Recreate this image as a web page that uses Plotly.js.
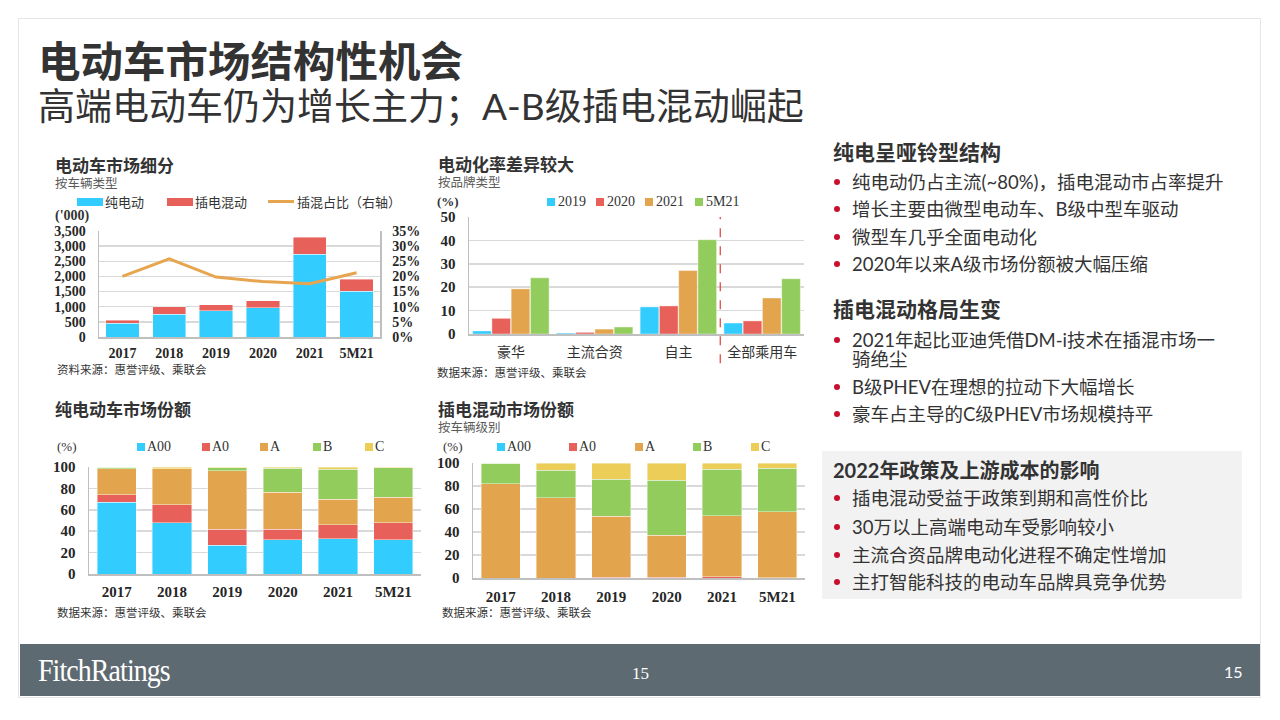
<!DOCTYPE html>
<html>
<head>
<meta charset="utf-8">
<script src="https://cdn.plot.ly/plotly-3.0.1.min.js"></script>
<style>
  html, body { margin:0; padding:0; background:#fff; }
  #slide { position:relative; width:1280px; height:720px; overflow:hidden; background:#fff;
           font-family: Lato, "Noto Sans CJK SC", sans-serif; color:#333; }
  .t { position:absolute; line-height:1; white-space:nowrap; }
  .chart { position:absolute; }
  .dot { position:absolute; width:6px; height:6px; border-radius:50%; background:#C8102E; }
  .b { font-size:18.5px; }
  .lg { position:absolute; }
</style>
</head>
<body>
<div id="slide">
  <div style="position:absolute;left:18px;top:18px;width:1241px;height:678px;border:1px solid #E6E6E6;"></div>
  <div style="position:absolute;left:20px;top:644px;width:1240px;height:52px;background:#5E6A71;"></div>

  <div class="t" style="left:38px;top:40px;font-size:42.5px;font-weight:700;color:#333;">电动车市场结构性机会</div>
  <div class="t" style="left:38px;top:87px;font-size:37px;font-weight:400;color:#333;">高端电动车仍为增长主力；A-B级插电混动崛起</div>

  <!-- chart 1 texts -->
  <div class="t" style="left:55px;top:157px;font-size:17px;font-weight:700;">电动车市场细分</div>
  <div class="t" style="left:55px;top:178px;font-size:12.5px;color:#595959;">按车辆类型</div>
  <div class="t" style="left:55px;top:209px;font-size:14px;font-family:'Liberation Serif',serif;font-weight:700;">('000)</div>
  <div class="t" style="left:57px;top:364px;font-size:11.5px;">资料来源：惠誉评级、乘联会</div>

  <!-- chart 2 texts -->
  <div class="t" style="left:438px;top:156px;font-size:17px;font-weight:700;">电动化率差异较大</div>
  <div class="t" style="left:438px;top:177px;font-size:12.5px;color:#595959;">按品牌类型</div>
  <div class="t" style="left:437px;top:195px;font-size:13px;font-family:'Liberation Serif',serif;font-weight:700;">(%)</div>
  <div class="t" style="left:437px;top:367px;font-size:11.5px;">数据来源：惠誉评级、乘联会</div>

  <!-- chart 3 texts -->
  <div class="t" style="left:55px;top:401px;font-size:17px;font-weight:700;">纯电动车市场份额</div>
  <div class="t" style="left:57px;top:440px;font-size:13px;font-family:'Liberation Serif',serif;">(%)</div>
  <div class="t" style="left:57px;top:607px;font-size:11.5px;">数据来源：惠誉评级、乘联会</div>

  <!-- chart 4 texts -->
  <div class="t" style="left:438px;top:401px;font-size:17px;font-weight:700;">插电混动市场份额</div>
  <div class="t" style="left:438px;top:422px;font-size:12.5px;color:#595959;">按车辆级别</div>
  <div class="t" style="left:443px;top:440px;font-size:13px;font-family:'Liberation Serif',serif;">(%)</div>
  <div class="t" style="left:442px;top:607px;font-size:11.5px;">数据来源：惠誉评级、乘联会</div>

  <!-- right panel -->
  <div class="t" style="left:833px;top:141px;font-size:21px;font-weight:700;">纯电呈哑铃型结构</div>
  <div class="dot" style="left:834px;top:179px;"></div>
  <div class="t b" style="left:852px;top:172.5px;">纯电动仍占主流(~80%)，插电混动市占率提升</div>
  <div class="dot" style="left:834px;top:206px;"></div>
  <div class="t b" style="left:852px;top:199.5px;">增长主要由微型电动车、B级中型车驱动</div>
  <div class="dot" style="left:834px;top:234px;"></div>
  <div class="t b" style="left:852px;top:227.5px;">微型车几乎全面电动化</div>
  <div class="dot" style="left:834px;top:261px;"></div>
  <div class="t b" style="left:852px;top:254.5px;">2020年以来A级市场份额被大幅压缩</div>

  <div class="t" style="left:833px;top:298px;font-size:21px;font-weight:700;">插电混动格局生变</div>
  <div class="dot" style="left:834px;top:337px;"></div>
  <div class="t b" style="left:852px;top:330.5px;">2021年起比亚迪凭借DM-i技术在插混市场一</div>
  <div class="t b" style="left:852px;top:350px;">骑绝尘</div>
  <div class="dot" style="left:834px;top:384px;"></div>
  <div class="t b" style="left:852px;top:377.5px;">B级PHEV在理想的拉动下大幅增长</div>
  <div class="dot" style="left:834px;top:411px;"></div>
  <div class="t b" style="left:852px;top:404.5px;">豪车占主导的C级PHEV市场规模持平</div>

  <div style="position:absolute;left:822px;top:451px;width:420px;height:148px;background:#F2F2F2;"></div>
  <div class="t" style="left:833px;top:460px;font-size:20px;font-weight:700;">2022年政策及上游成本的影响</div>
  <div class="dot" style="left:834px;top:495px;"></div>
  <div class="t b" style="left:852px;top:488.5px;">插电混动受益于政策到期和高性价比</div>
  <div class="dot" style="left:834px;top:524px;"></div>
  <div class="t b" style="left:852px;top:517.5px;">30万以上高端电动车受影响较小</div>
  <div class="dot" style="left:834px;top:552px;"></div>
  <div class="t b" style="left:852px;top:545.5px;">主流合资品牌电动化进程不确定性增加</div>
  <div class="dot" style="left:834px;top:579px;"></div>
  <div class="t b" style="left:852px;top:572.5px;">主打智能科技的电动车品牌具竞争优势</div>

  <!-- footer -->
  <div class="t" style="left:38px;top:655px;font-size:31px;color:#fff;font-family:'Liberation Serif',serif;letter-spacing:-1px;transform:scaleX(0.9);transform-origin:left center;">FitchRatings</div>
  <div class="t" style="left:632px;top:665px;font-size:17px;color:#fff;font-family:'Liberation Serif',serif;">15</div>
  <div class="t" style="left:1224px;top:664px;font-size:16px;color:#fff;">15</div>

  <div id="c1" class="chart" style="left:40px;top:190px;width:380px;height:180px;"></div>
  <div id="c2" class="chart" style="left:430px;top:190px;width:380px;height:185px;"></div>
  <div id="c3" class="chart" style="left:40px;top:425px;width:385px;height:180px;"></div>
  <div id="c4" class="chart" style="left:430px;top:425px;width:380px;height:185px;"></div>
  <div id="legends"></div>
</div>

<script>
// ---------------- data ----------------
const years = ['2017', '2018', '2019', '2020', '2021', '5M21'];

// Chart 1: 电动车市场细分 ('000 units)
const marketSeries = ['纯电动', '插电混动', '插混占比（右轴）'];
const bevUnits = [450, 750, 860, 970, 2730, 1510];
const phevUnits = [95, 250, 210, 220, 570, 395];
const phevSharePct = [20.0, 25.8, 19.8, 18.3, 17.6, 21.2];

// Chart 2: 电动化率差异较大 (%)
const brandCats = ['豪华', '主流合资', '自主', '全部乘用车'];
const rateSeries = ['2019', '2020', '2021', '5M21'];
const rate2019 = [1.3, 0.4, 11.6, 4.7];
const rate2020 = [6.7, 0.7, 12.0, 5.6];
const rate2021 = [19.3, 2.1, 27.1, 15.4];
const rate5M21 = [24.0, 3.0, 40.3, 23.6];

// Chart 3: 纯电动车市场份额 (%)
const segNames = ['A00', 'A0', 'A', 'B', 'C'];
const bevA00 = [67, 48, 27, 32, 33, 32];
const bevA0 = [7, 16.5, 15, 10, 13, 16];
const bevA = [24.5, 34, 54.5, 34.5, 24, 23.5];
const bevB = [1.5, 0, 3, 22.5, 28, 28];
const bevC = [0, 1.5, 0.5, 1, 2, 0.5];

// Chart 4: 插电混动市场份额 (%)
const phevA00 = [0, 0, 0, 0, 0, 0];
const phevA0 = [0, 0, 0.5, 0.5, 1.2, 0.3];
const phevA = [82, 70, 53, 36.5, 53, 57.1];
const phevB = [18, 23.5, 32.5, 48, 40.3, 38];
const phevC = [0, 6.5, 14, 15, 5.5, 4.6];

// ---------------- style ----------------
const BLUE = '#33CCFF', RED = '#E8605A', ORANGE = '#E3A44E', GREEN = '#92CC5C', YELLOW = '#EBCD58', LINE = '#E8A54F';
const SEG_COLORS = [BLUE, RED, ORANGE, GREEN, YELLOW];
const SERIF = 'Liberation Serif, Noto Sans CJK SC, serif';
const GRID = '#D9D9D9', AXIS = '#BFBFBF';
const cfg = { displayModeBar: false, staticPlot: true };
const segLine = { color: 'rgba(255,255,255,0.7)', width: 0.6 };
const tickF = (size) => ({ size: size, family: SERIF, color: '#262626', weight: 700 });

function baseLayout(w, h, m) {
  return {
    width: w, height: h, margin: m,
    paper_bgcolor: 'rgba(0,0,0,0)', plot_bgcolor: 'rgba(0,0,0,0)',
    font: { family: SERIF, color: '#333', size: 13 },
    showlegend: false,
  };
}

// HTML legend rows (key symbols + real text)
function legend(cy, items, font) {
  const host = document.getElementById('legends');
  items.forEach(it => {
    const sym = document.createElement('div');
    sym.className = 'lg';
    const h = it.kind === 'line' ? 3 : it.h;
    Object.assign(sym.style, { left: it.x + 'px', top: (cy - h / 2) + 'px', width: it.w + 'px', height: h + 'px', background: it.color });
    host.appendChild(sym);
    const tx = document.createElement('div');
    tx.className = 't';
    Object.assign(tx.style, { left: it.tx + 'px', top: (cy - font.size / 2) + 'px', fontSize: font.size + 'px',
      fontFamily: font.family, fontWeight: font.weight || 400, color: '#333' });
    tx.textContent = it.name;
    host.appendChild(tx);
  });
}

// Chart 1
(function () {
  const traces = [
    { type: 'bar', name: marketSeries[0], x: years, y: bevUnits, marker: { color: BLUE, line: segLine } },
    { type: 'bar', name: marketSeries[1], x: years, y: phevUnits, marker: { color: RED, line: segLine } },
    { type: 'scatter', mode: 'lines', name: marketSeries[2], x: years, y: phevSharePct, yaxis: 'y2',
      line: { color: LINE, width: 3 } },
  ];
  const L = baseLayout(380, 180, { l: 59, r: 40, t: 41, b: 33 });
  Object.assign(L, {
    barmode: 'stack', bargap: 0.29,
    xaxis: { type: 'category', showgrid: false, showline: true, linecolor: AXIS, linewidth: 1.5,
             ticks: 'outside', ticklen: 3, tickcolor: 'rgba(0,0,0,0)', tickfont: tickF(14) },
    yaxis: { range: [0, 3500], dtick: 500, tickformat: ',d', showgrid: true, gridcolor: GRID, gridwidth: 1.5,
             showline: true, linecolor: AXIS, linewidth: 1.5, zeroline: false,
             ticks: 'outside', ticklen: 9, tickcolor: 'rgba(0,0,0,0)', tickfont: tickF(14) },
    yaxis2: { range: [0, 35], dtick: 5, ticksuffix: '%', overlaying: 'y', side: 'right', showgrid: false,
              showline: true, linecolor: AXIS, linewidth: 1.5, zeroline: false,
              ticks: 'outside', ticklen: 8, tickcolor: 'rgba(0,0,0,0)', tickfont: tickF(14) },
  });
  Plotly.newPlot('c1', traces, L, cfg);
  legend(201.5, [
    { name: marketSeries[0], color: BLUE, x: 77, w: 26, h: 8, tx: 105 },
    { name: marketSeries[1], color: RED, x: 167, w: 26, h: 8, tx: 195 },
    { name: marketSeries[2], color: LINE, kind: 'line', x: 268, w: 26, tx: 297 },
  ], { size: 13, family: 'Noto Sans CJK SC' });
})();

// Chart 2
(function () {
  const vals = [rate2019, rate2020, rate2021, rate5M21];
  const cols = [BLUE, RED, ORANGE, GREEN];
  const traces = rateSeries.map((n, i) => ({ type: 'bar', name: n, x: brandCats, y: vals[i], marker: { color: cols[i], line: segLine } }));
  const L = baseLayout(380, 185, { l: 39, r: 6, t: 27, b: 41 });
  Object.assign(L, {
    barmode: 'group', bargap: 0.08, bargroupgap: 0.03,
    xaxis: { type: 'category', showgrid: false, showline: true, linecolor: AXIS, linewidth: 1.5,
             ticks: 'outside', ticklen: 5, tickcolor: 'rgba(0,0,0,0)', tickfont: { size: 14, family: 'Noto Sans CJK SC', color: '#333' } },
    yaxis: { range: [0, 50], dtick: 10, showgrid: true, gridcolor: GRID, gridwidth: 1.5, zeroline: false,
             showline: true, linecolor: AXIS, linewidth: 1.5,
             ticks: 'outside', ticklen: 9, tickcolor: 'rgba(0,0,0,0)', tickfont: tickF(15) },
    shapes: [{ type: 'line', xref: 'x', yref: 'paper', x0: 2.5, x1: 2.5, y0: -0.25, y1: 1.0,
               line: { color: '#E03C3C', width: 1.2, dash: 'dash' } }],
  });
  Plotly.newPlot('c2', traces, L, cfg);
  const xs = [547, 596, 645, 695];
  legend(202, rateSeries.map((n, i) => ({ name: n, color: cols[i], x: xs[i], w: 8, h: 8, tx: xs[i] + 11 })),
    { size: 14, family: 'Liberation Serif' });
})();

function shareChart(id, data, w, h, m, cy, xs, xtl) {
  const traces = data.map((d, i) => ({ type: 'bar', name: segNames[i], x: years, y: d,
    marker: { color: SEG_COLORS[i], line: segLine } }));
  const L = baseLayout(w, h, m);
  Object.assign(L, {
    barmode: 'stack', bargap: 0.29,
    xaxis: { type: 'category', showgrid: false, showline: true, linecolor: AXIS, linewidth: 1.5,
             ticks: 'outside', ticklen: xtl, tickcolor: 'rgba(0,0,0,0)', tickfont: tickF(15) },
    yaxis: { range: [0, 100], dtick: 20, showgrid: true, gridcolor: GRID, gridwidth: 1.5, zeroline: false,
             showline: true, linecolor: AXIS, linewidth: 1.5,
             ticks: 'outside', ticklen: 9, tickcolor: 'rgba(0,0,0,0)', tickfont: tickF(15) },
  });
  Plotly.newPlot(id, traces, L, cfg);
  legend(cy, segNames.map((n, i) => ({ name: n, color: SEG_COLORS[i], x: xs[i], w: 8, h: 8, tx: xs[i] + 10 })),
    { size: 14, family: 'Liberation Serif' });
}

shareChart('c3', [bevA00, bevA0, bevA, bevB, bevC], 385, 180, { l: 49, r: 4, t: 42, b: 31 }, 447, [137, 202, 260, 313, 365], 3);
shareChart('c4', [phevA00, phevA0, phevA, phevB, phevC], 380, 185, { l: 43, r: 5, t: 38, b: 32 }, 447, [497, 569, 635, 693, 751], 4);
</script>
</body>
</html>
